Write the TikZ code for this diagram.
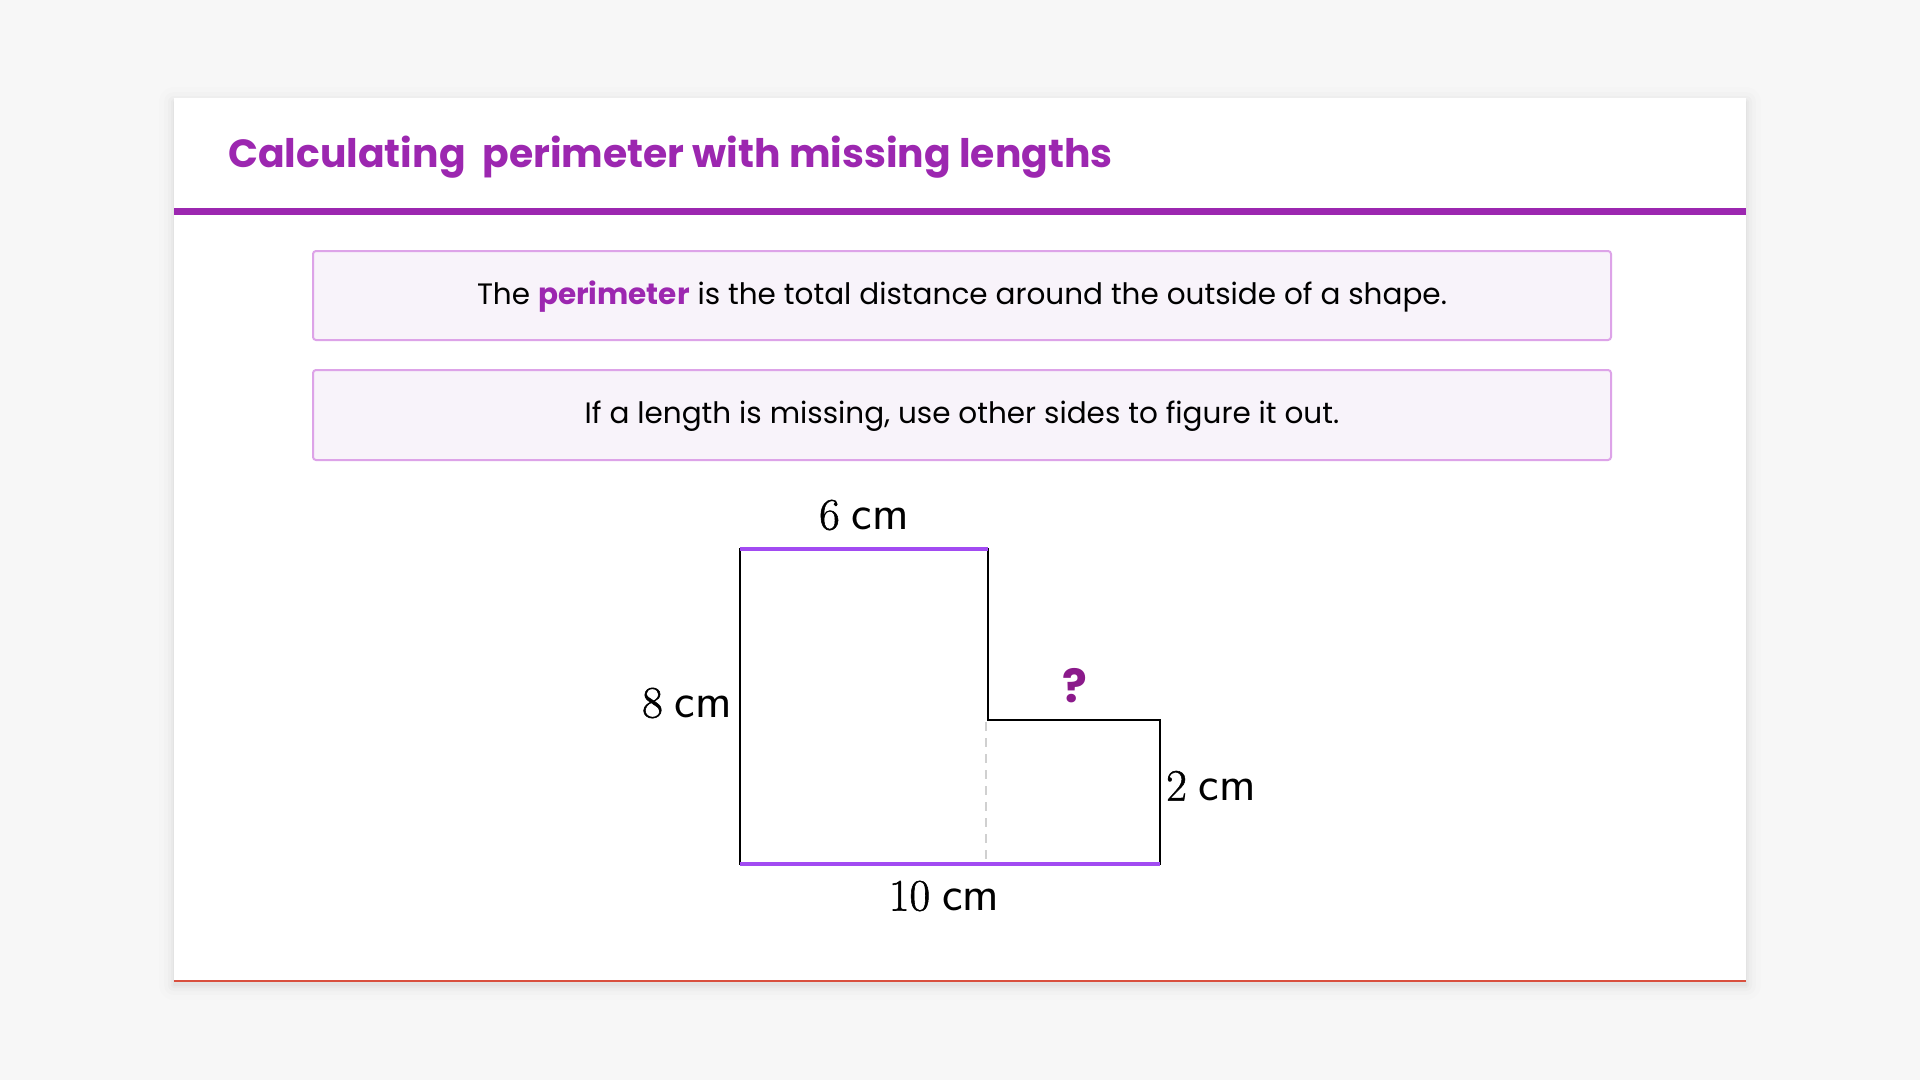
\documentclass[tikz,border=0pt]{standalone}
\usepackage{fontspec}
\setmainfont{Poppins}
\newfontfamily\lmr{Latin Modern Roman}[BoldFont={Latin Modern Roman},BoldFeatures={FakeBold=1.2}]
\newfontfamily\lms{Latin Modern Sans}
\usetikzlibrary{positioning}
\definecolor{pagebg}{HTML}{F7F7F7}
\definecolor{ttl}{HTML}{9C27B0}
\definecolor{boxfill}{HTML}{F8F3FA}
\definecolor{boxline}{HTML}{DDA3E8}
\definecolor{edgepurple}{HTML}{A24BF2}
\definecolor{qmark}{HTML}{8B1A8B}
\definecolor{dashgrey}{HTML}{D0D0D0}
\definecolor{redline}{HTML}{D9503F}
\newcommand{\dimtxt}[1]{{\lmr\bfseries\fontsize{45}{50}\selectfont #1}\hspace{12pt}{\lms\fontsize{49}{52}\selectfont cm}}
\begin{document}
\begin{tikzpicture}[x=1pt,y=-1pt,
  infobox/.style={draw=boxline,line width=2pt,fill=boxfill,rounded corners=3pt},
  infotext/.style={font=\fontsize{29.5}{34}\selectfont,text=black,inner sep=0pt},
  dimlabel/.style={inner sep=0pt},
  blackedge/.style={draw=black,line width=2.6pt,line cap=rect},
  purpleedge/.style={draw=edgepurple,line width=3.2pt},
]
\useasboundingbox (0,0) rectangle (1920,1080);
\fill[pagebg] (0,0) rectangle (1920,1080);
% card shadow
\foreach \i/\o in {1/0.025,3/0.02,6/0.015,10/0.01,15/0.006}{
  \fill[black,opacity=\o,rounded corners=\i pt] (174-\i,98-\i+4) rectangle (1746+\i,981+\i+4);
}
\fill[white] (174,98) rectangle (1746,981);
\draw[redline,line width=1.5pt] (174,981) -- (1746,981);
% title
\node[anchor=west,inner sep=0pt,text=ttl,font=\fontsize{39.3}{44}\selectfont\bfseries] (title) at (228,157) {Calculating\ \ perimeter with missing lengths};
\fill[ttl] (174,208) rectangle (1746,215);
% info boxes
\draw[infobox] (313,251) rectangle (1611,340);
\node[infotext] (t1) at (962,296.5) {The \textcolor{ttl}{\bfseries perimeter} is the total distance around the outside of a shape.};
\draw[infobox] (313,370) rectangle (1611,460);
\node[infotext] (t2) at (962,416) {If a length is missing, use other sides to figure it out.};
% shape
\coordinate (tl) at (740,549);
\coordinate (tr) at (988,549);
\coordinate (im) at (988,720);
\coordinate (sr) at (1160,720);
\coordinate (br) at (1160,864);
\coordinate (bl) at (740,864);
\coordinate (dtop) at (986,722);
\coordinate (dbot) at (986,864);
\draw[dashgrey,line width=1.5pt,dash pattern=on 9pt off 7pt] (dtop) -- (dbot);
\draw[blackedge] (tr) -- (im) -- (sr) -- (br);
\draw[blackedge] (bl) -- (tl);
\draw[purpleedge] (tl) -- (tr);
\draw[purpleedge] (bl) -- (br);
% labels
\node[dimlabel] (l6) at (864,515) {\dimtxt{6}};
\node[dimlabel,anchor=east] (l8) at (732,703) {\dimtxt{8}};
\node[dimlabel,anchor=west] (l2) at (1166,786) {\dimtxt{2}};
\node[dimlabel] (l10) at (944,896) {\dimtxt{10}};
\node[inner sep=0pt,text=qmark,font=\fontsize{46}{50}\selectfont\bfseries] (q) at (1075,686) {?};
\end{tikzpicture}
\end{document}
